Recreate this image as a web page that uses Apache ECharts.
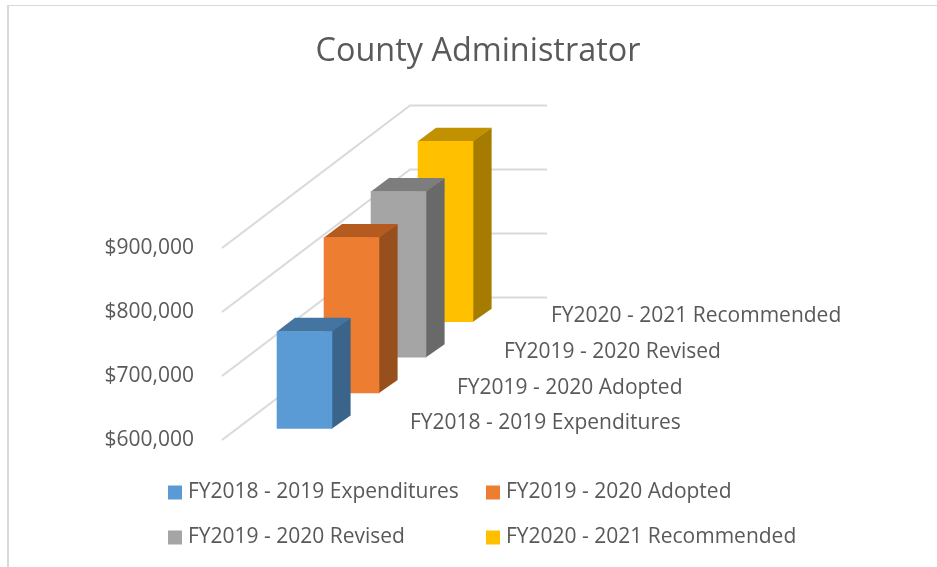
<!DOCTYPE html>
<html><head><meta charset="utf-8">
<script src="https://cdn.jsdelivr.net/npm/echarts@6/dist/echarts.min.js"></script>
<style>html,body{margin:0;padding:0;background:#fff}#c{width:937px;height:567px}</style>
</head><body><div id="c"></div>
<script>
var titleText = 'County Administrator';
var categories = ['FY2018 - 2019 Expenditures','FY2019 - 2020 Adopted','FY2019 - 2020 Revised','FY2020 - 2021 Recommended'];
var values = [752600, 843750, 860000, 882800];
var tickValues = [600000, 700000, 800000, 900000];
var frontColors = ['#5B9BD5','#ED7D31','#A5A5A5','#FFC000'];
var topColors = ['#4475A1','#B55B1F','#7D7D7D','#C19100'];
var sideColors = ['#3A6489','#984F1E','#696969','#A57C00'];

var FONT = '"Open Sans"', TXT = '#595959';
var K = 142.5 / 188;      // screen rise per px of depth
var LAT = 31.2, BW = 55.6, DX = 18.3, DY = 13.3;

function project(api, params, cat, val) {
  var p = api.coord([cat, val]);
  return [p[0], p[1] - (p[0] - params.coordSys.x) * K];
}
function barItem(params, api) {
  var cat = api.value(0), val = api.value(1), i = cat;
  var t = project(api, params, cat, val), b = project(api, params, cat, tickValues[0]);
  var xl = t[0] + LAT, xr = xl + BW;
  var ty = t[1] + DY / 2, by = b[1] + DY / 2;
  return { type: 'group', children: [
    { type:'polygon', shape:{points:[[xr-0.6,ty],[xr+DX,ty-DY],[xr+DX,by-DY],[xr-0.6,by]]}, style:{fill:sideColors[i]} },
    { type:'polygon', shape:{points:[[xl,ty+0.6],[xl+DX,ty-DY],[xr+DX,ty-DY],[xr,ty+0.6]]}, style:{fill:topColors[i]} },
    { type:'rect', shape:{x:xl,y:ty,width:BW,height:by-ty}, style:{fill:frontColors[i]} }
  ]};
}
function labelItem(params, api) {
  var cat = api.value(0);
  var b = project(api, params, cat, tickValues[0]);
  return { type:'text', style:{ x:b[0]+164.5, y:b[1]+1, text:categories[cat], fill:TXT, fontSize:21, fontFamily:FONT, align:'left', verticalAlign:'middle' } };
}
function gridItem(params, api) {
  var cs = params.coordSys, y = api.coord([0, api.value(1)])[1];
  var xb = cs.x + cs.width, yb = y - cs.width * K;
  return { type:'polyline', shape:{points:[[cs.x,y],[xb,yb],[xb+137,yb]]}, style:{stroke:'#D9D9D9',lineWidth:2,fill:null} };
}

var series = [{ type:'custom', name:'grid', silent:true, renderItem:gridItem, clip:false, z:1,
  data: tickValues.map(function(v){return [0,v];}) }];
categories.forEach(function(name,i){
  series.push({ type:'custom', name:name, renderItem:barItem, clip:false, z:6-i,
    itemStyle:{color:frontColors[i]}, data:[[i,values[i]]] });
});
series.push({ type:'custom', name:'labels', silent:true, renderItem:labelItem, clip:false, z:10,
  data: categories.map(function(c,i){return [i,tickValues[0]];}) });

var legendBase = { orient:'vertical', icon:'rect', itemWidth:14, itemHeight:14, itemGap:24, top:482,
  textStyle:{color:TXT,fontSize:21,fontFamily:FONT,padding:[0,0,0,1]}, selectedMode:false, padding:0 };

var chart = echarts.init(document.getElementById('c'), null, {renderer:'canvas'});
chart.setOption({
  animation:false, backgroundColor:'#fff',
  title:{ text:titleText, left:473, top:31, textAlign:'center',
    textStyle:{color:TXT,fontSize:32.4,fontWeight:'normal',fontFamily:FONT} },
  legend:[
    Object.assign({}, legendBase, {left:168, data:[categories[0],categories[2]]}),
    Object.assign({}, legendBase, {left:486, data:[categories[1],categories[3]]})
  ],
  grid:{ left:222, top:248, width:188, height:192, containLabel:false },
  xAxis:{ type:'category', data:categories, show:false },
  yAxis:{ type:'value', min:tickValues[0], max:tickValues[3], interval:100000,
    axisLine:{show:false}, axisTick:{show:false}, splitLine:{show:false},
    axisLabel:{ margin:28, color:TXT, fontSize:21, fontFamily:FONT, padding:[5,0,0,0],
      formatter:function(v){return '$'+String(v).replace(/\B(?=(\d{3})+$)/g,',');} } },
  graphic:[
    {type:'rect',silent:true,shape:{x:7,y:5,width:930,height:1},style:{fill:'#D9D9D9'}},
    {type:'rect',silent:true,shape:{x:7,y:5,width:2,height:562},style:{fill:'#D9D9D9'}}
  ],
  series:series
});
</script></body></html>
